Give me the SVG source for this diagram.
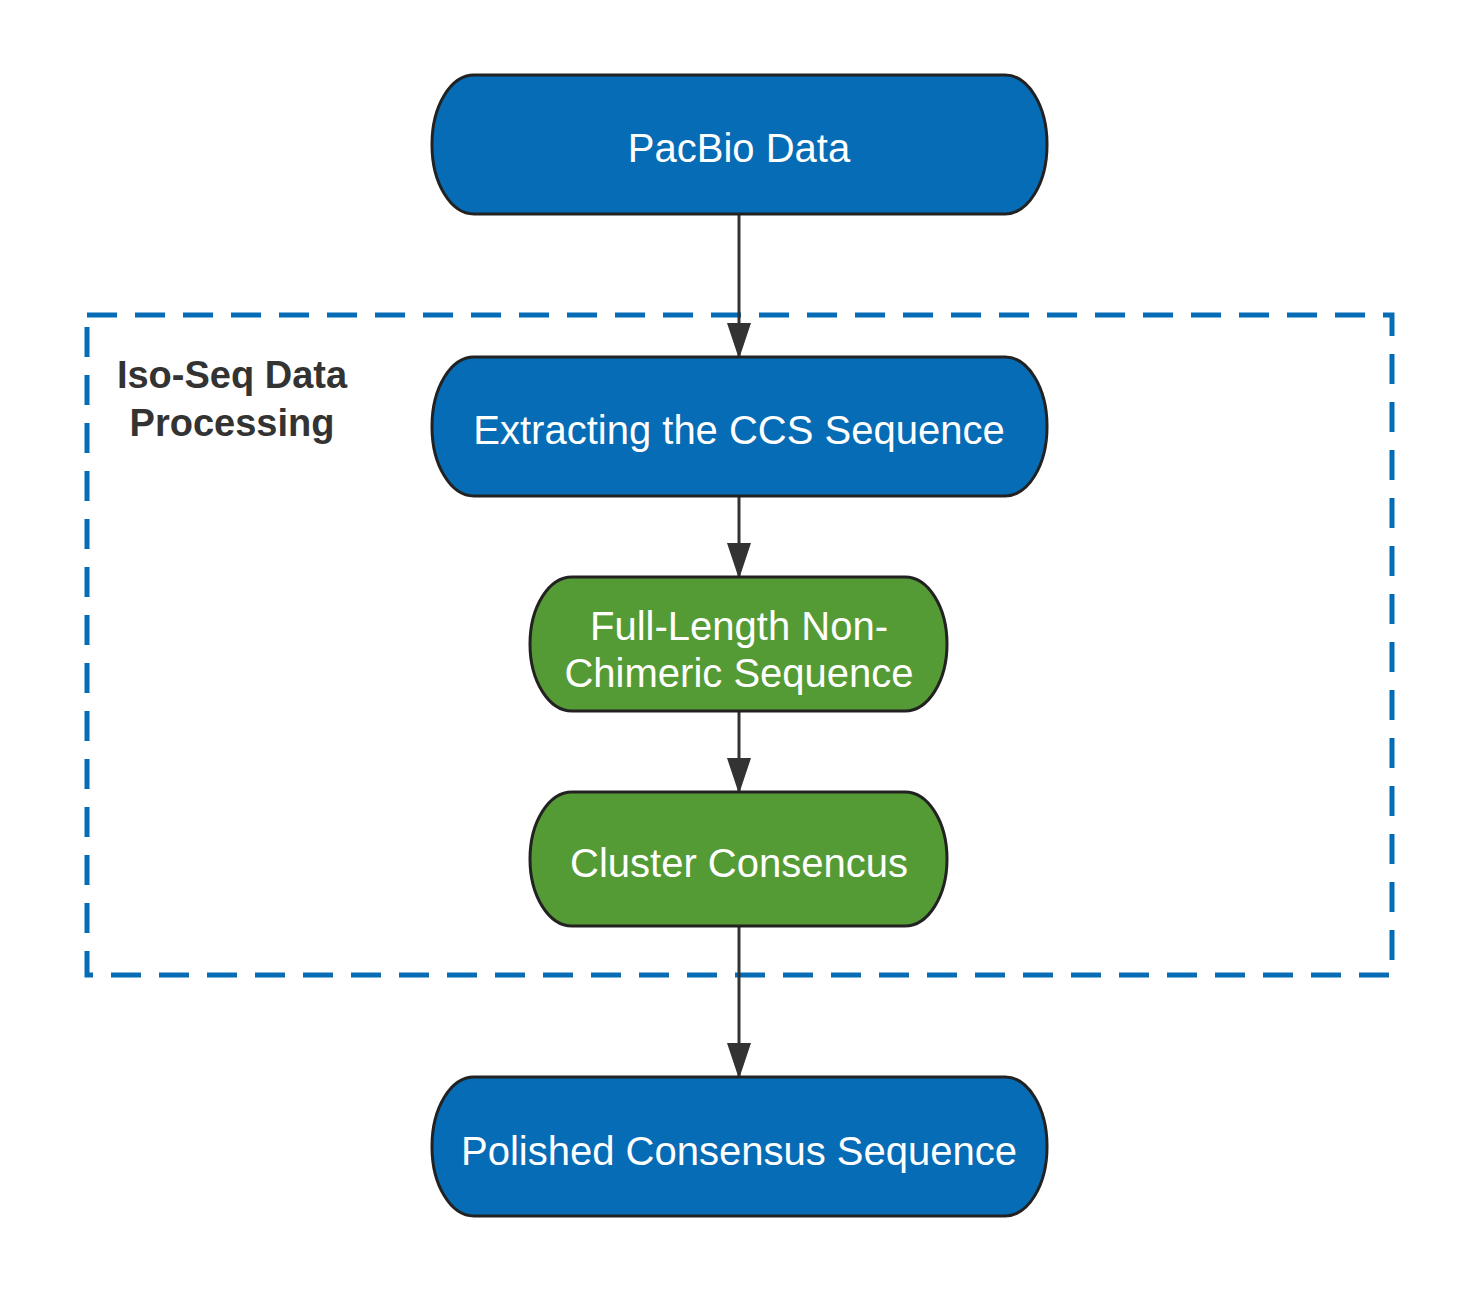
<svg xmlns="http://www.w3.org/2000/svg" width="1467" height="1291" viewBox="0 0 1467 1291">
<defs>
<style>
.blue{fill:#066cb6;stroke:#222;stroke-width:3}
.green{fill:#559b35;stroke:#222;stroke-width:3}
.lbl{font-family:"Liberation Sans",Arial,sans-serif;font-size:40px;fill:#fff;text-anchor:middle}
.grp{fill:none;stroke:#066cb6;stroke-width:5;stroke-dasharray:30 18}
.glbl{font-family:"Liberation Sans",Arial,sans-serif;font-size:38px;font-weight:bold;fill:#333;text-anchor:middle}
.edge{stroke:#333;stroke-width:3;fill:none}
</style>
<marker id="arr" markerUnits="userSpaceOnUse" markerWidth="36" markerHeight="24" refX="36" refY="12" orient="auto" viewBox="0 0 36 24">
<path d="M0,0 L36,12 L0,24 Z" fill="#333"/>
</marker>
</defs>
<rect width="1467" height="1291" fill="#fff"/>
<g id="group-isoseq">
<rect class="grp" x="87" y="315" width="1305" height="660"/>
<text class="glbl" x="232" y="388">Iso-Seq Data</text>
<text class="glbl" x="232" y="436">Processing</text>
</g>
<g id="connectors">
<line class="edge" x1="739" y1="214" x2="739" y2="359" marker-end="url(#arr)"/>
<line class="edge" x1="739" y1="496" x2="739" y2="579" marker-end="url(#arr)"/>
<line class="edge" x1="739" y1="711" x2="739" y2="794" marker-end="url(#arr)"/>
<line class="edge" x1="739" y1="926" x2="739" y2="1079" marker-end="url(#arr)"/>
</g>
<g id="node-pacbio">
<rect class="blue" x="432" y="75" width="615" height="139" rx="42" ry="69"/>
<text class="lbl" x="739" y="162">PacBio Data</text>
</g>
<g id="node-ccs">
<rect class="blue" x="432" y="357" width="615" height="139" rx="42" ry="69"/>
<text class="lbl" x="739" y="444">Extracting the CCS Sequence</text>
</g>
<g id="node-flnc">
<rect class="green" x="530" y="577" width="417" height="134" rx="42" ry="67"/>
<text class="lbl" x="739" y="640">Full-Length Non-</text>
<text class="lbl" x="739" y="687">Chimeric Sequence</text>
</g>
<g id="node-cluster">
<rect class="green" x="530" y="792" width="417" height="134" rx="42" ry="67"/>
<text class="lbl" x="739" y="877">Cluster Consencus</text>
</g>
<g id="node-polished">
<rect class="blue" x="432" y="1077" width="615" height="139" rx="42" ry="69"/>
<text class="lbl" x="739" y="1165">Polished Consensus Sequence</text>
</g>
</svg>
